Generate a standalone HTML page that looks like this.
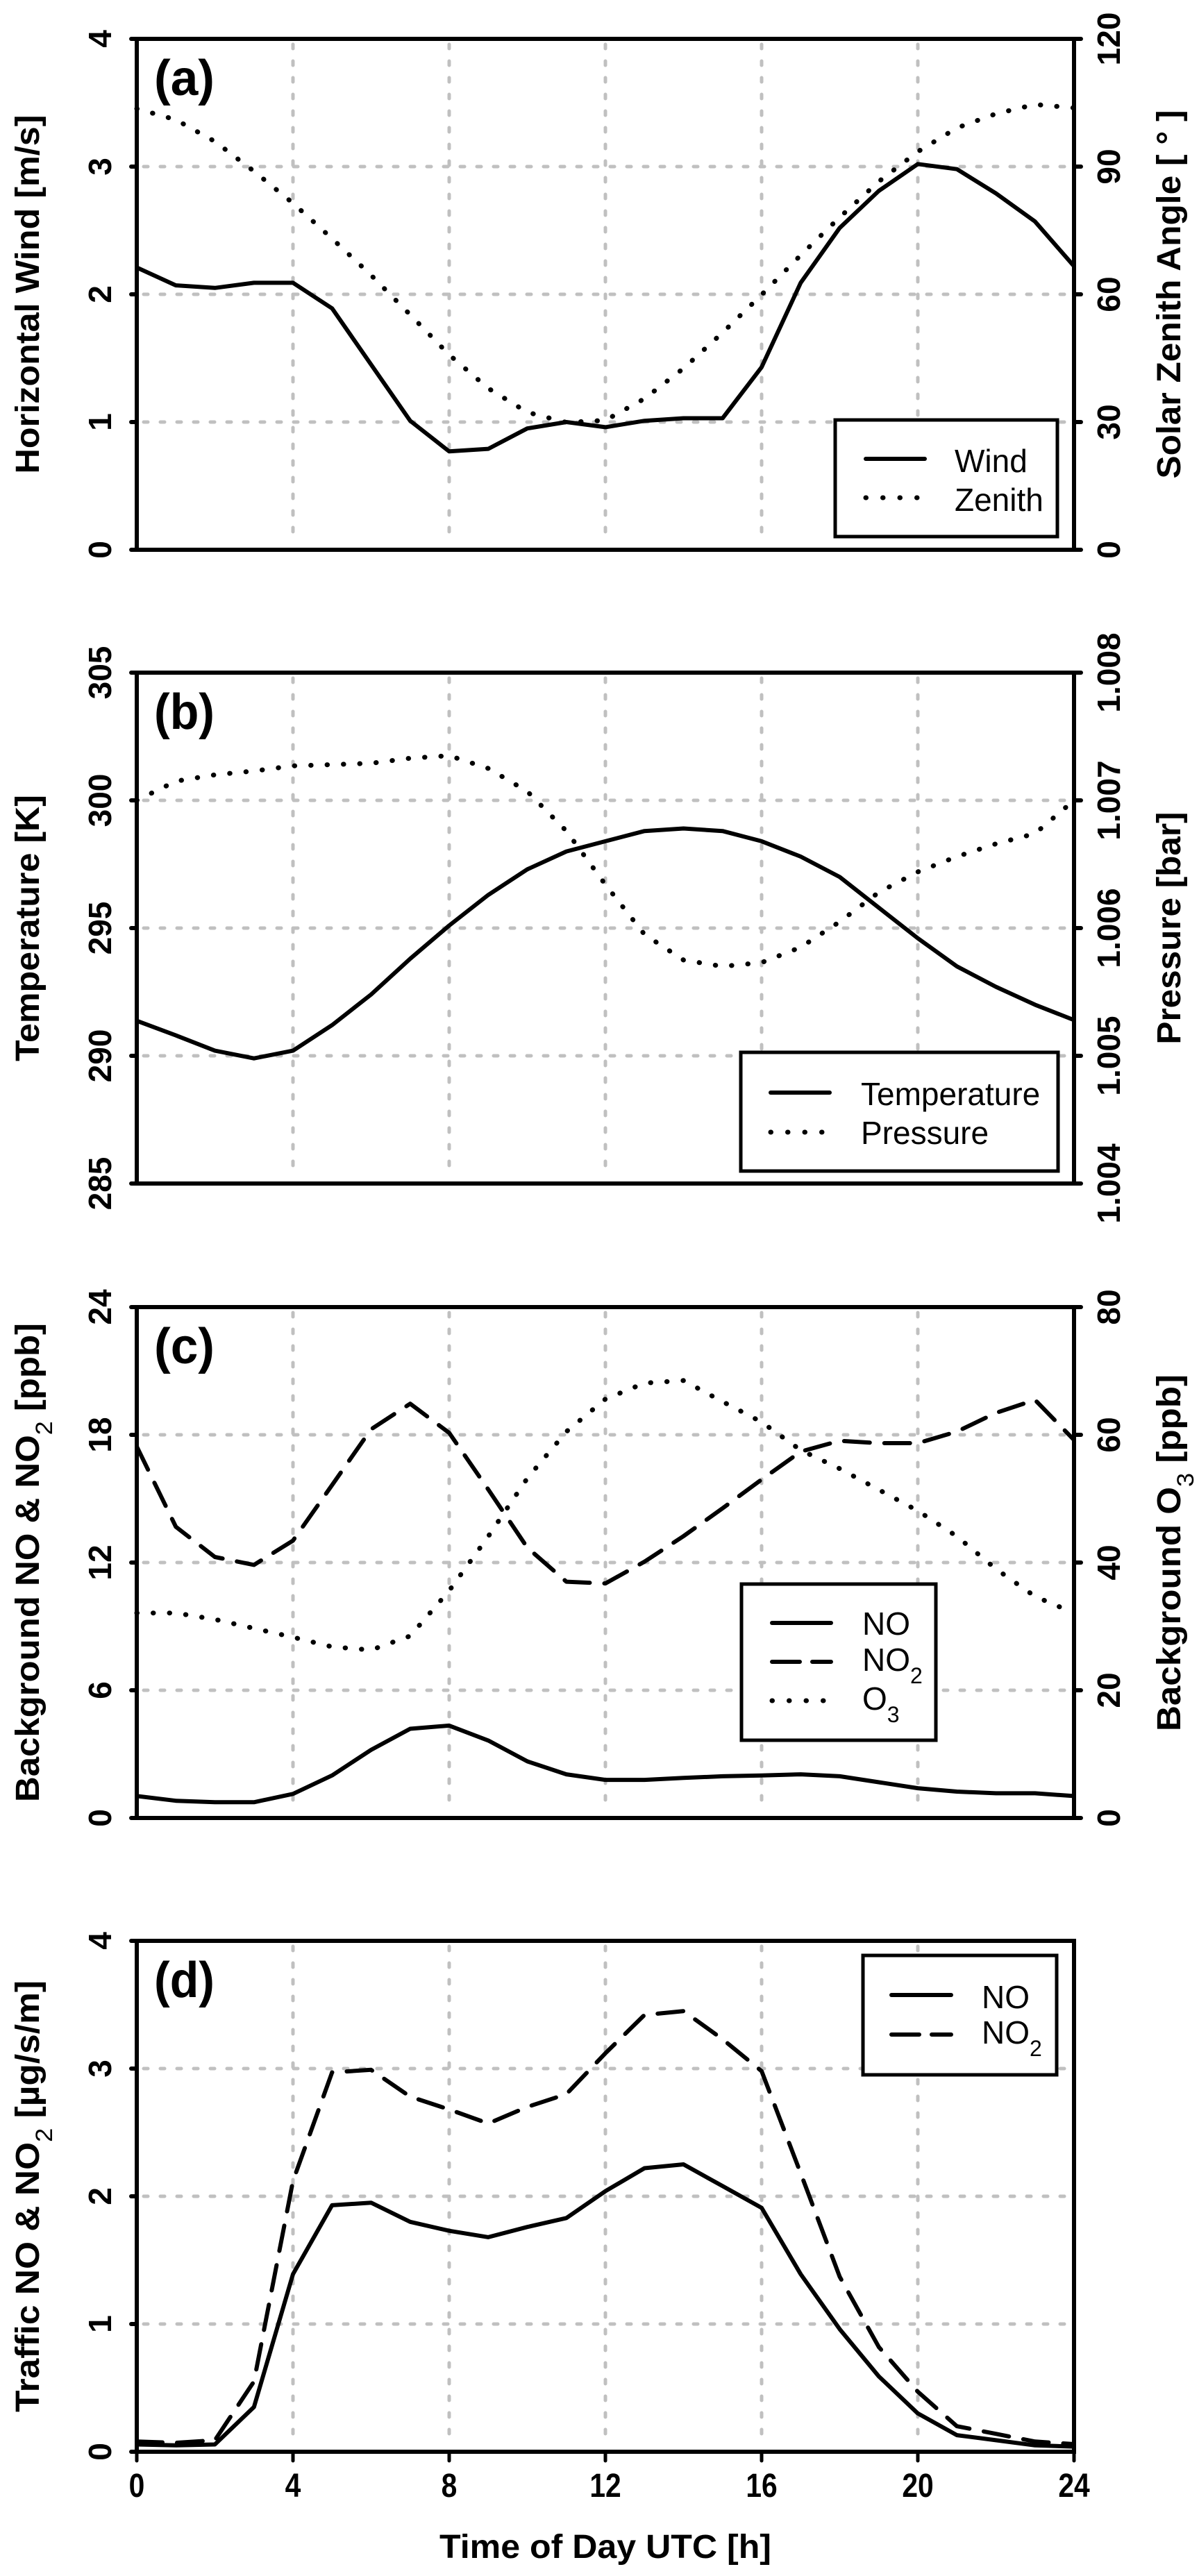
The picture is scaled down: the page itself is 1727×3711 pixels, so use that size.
<!DOCTYPE html>
<html><head><meta charset="utf-8"><style>
html,body{margin:0;padding:0;background:#fff;}
svg{display:block;}
text{font-family:"Liberation Sans",Arial,sans-serif;}
</style></head><body>
<svg id="fig" width="1727" height="3711" viewBox="0 0 1727 3711" xmlns="http://www.w3.org/2000/svg"></svg>
<script>
// ---- data ----
const hours = [0,1,2,3,4,5,6,7,8,9,10,11,12,13,14,15,16,17,18,19,20,21,22,23,24];
const windValues = [2.21,2.07,2.05,2.09,2.09,1.89,1.45,1.01,0.77,0.79,0.95,1.0,0.96,1.01,1.03,1.03,1.43,2.09,2.52,2.81,3.02,2.98,2.79,2.57,2.22];
const zenithValues = [103.6,101,95.9,88.9,81.4,73.1,64.5,55.2,45.8,37.9,32.3,29.9,30.4,35.5,42.6,51,59.9,69.2,78.1,86.5,93.5,99.1,102.4,104.6,103.8];
const temperatureValues = [291.37,290.8,290.2,289.9,290.2,291.2,292.4,293.8,295.1,296.3,297.3,298.0,298.4,298.8,298.9,298.8,298.4,297.8,297.0,295.8,294.6,293.5,292.7,292.0,291.4];
const pressureValues = [1.00700,1.00715,1.00720,1.00723,1.00727,1.00728,1.00729,1.00733,1.00735,1.00725,1.00707,1.00676,1.00634,1.00595,1.00575,1.00570,1.00573,1.00585,1.00605,1.00628,1.00644,1.00656,1.00666,1.00674,1.00700];
const bgNOValues = [1.03,0.81,0.74,0.74,1.13,2.0,3.2,4.19,4.34,3.64,2.66,2.05,1.79,1.79,1.88,1.96,2.0,2.05,1.96,1.68,1.40,1.24,1.16,1.16,1.03];
const bgNO2Values = [17.45,13.68,12.26,11.89,13.03,15.64,18.26,19.46,18.09,15.43,12.70,11.1,11.02,12.04,13.24,14.55,15.9,17.21,17.72,17.61,17.61,18.15,19.03,19.64,17.76];
const bgO3Values = [32.1,32.1,31.1,29.7,28.3,26.8,26.3,28.5,35.6,44.1,53.2,60.5,65.6,68.1,68.5,65.2,62.0,57.6,54.7,51.4,48.1,44.1,39.0,34.7,32.1];
const trNOValues = [0.057,0.05,0.057,0.35,1.39,1.93,1.95,1.80,1.73,1.68,1.76,1.83,2.04,2.22,2.25,2.08,1.91,1.39,0.96,0.59,0.30,0.13,0.09,0.05,0.04];
const trNO2Values = [0.08,0.07,0.09,0.55,2.12,2.97,2.99,2.78,2.68,2.57,2.70,2.80,3.12,3.42,3.45,3.23,2.98,2.18,1.37,0.82,0.47,0.20,0.14,0.08,0.06];
const xTickLabels = ["0","4","8","12","16","20","24"];
const aLeftTicks = ["0","1","2","3","4"];
const aRightTicks = ["0","30","60","90","120"];
const bLeftTicks = ["285","290","295","300","305"];
const bRightTicks = ["1.004","1.005","1.006","1.007","1.008"];
const cLeftTicks = ["0","6","12","18","24"];
const cRightTicks = ["0","20","40","60","80"];
const dLeftTicks = ["0","1","2","3","4"];

const NS = "http://www.w3.org/2000/svg";
const svg = document.getElementById('fig');
const X0 = 197, X1 = 1547, PH = 736;
function xs(h){ return X0 + (h/24)*(X1-X0); }
function mk(tag, attrs, parent){
  const e = document.createElementNS(NS, tag);
  for (const k in attrs) e.setAttribute(k, attrs[k]);
  (parent||svg).appendChild(e);
  return e;
}
const SOLID = null, DOTS = "0.5 23", DASH = "37 21";

function panel(cfg){
  const g = mk('g', {});
  
  
  const top = cfg.top, bot = top + PH;
  const yL = v => bot - (v - cfg.lmin)/(cfg.lmax - cfg.lmin)*PH;
  const yR = v => bot - (v - cfg.rmin)/(cfg.rmax - cfg.rmin)*PH;
  // grid
  for (let h = 4; h < 24; h += 4){
    const l = mk('line', {x1:xs(h), x2:xs(h), y1:top+8, y2:bot-8, stroke:'#c0c0c0','stroke-width':5,'stroke-dasharray':'6 18','stroke-linecap':'round'}, g);
    
    
  }
  for (let i = 1; i < cfg.lticks.length-1; i++){
    const v = cfg.lmin + i*(cfg.lmax-cfg.lmin)/(cfg.lticks.length-1);
    const l = mk('line', {x1:X0+10, x2:X1-10, y1:yL(v), y2:yL(v), stroke:'#c0c0c0','stroke-width':5,'stroke-dasharray':'6 18','stroke-linecap':'round'}, g);
    
    
  }
  // series
  cfg.series.forEach(s => {
    const ys = s.axis === 'r' ? yR : yL;
    const pts = hours.map((h,i) => xs(h).toFixed(1)+','+ys(s.vals[i]).toFixed(1)).join(' ');
    const p = mk('polyline', {points:pts, fill:'none', stroke:'#000','stroke-width':s.dash===DOTS?7:6,'stroke-linejoin':'round','stroke-linecap':'round'}, g);
    if (s.dash) p.setAttribute('stroke-dasharray', s.dash);
    
    
  });
  // frame
  const fr = mk('path', {d:`M${X0},${top} H${X1} V${bot} H${X0} Z`, fill:'none', stroke:'#000','stroke-width':6,'stroke-linejoin':'miter'}, g);
  
  
  // y ticks
  cfg.lticks.forEach((t,i) => {
    const y = bot - i*PH/(cfg.lticks.length-1);
    mk('line', {x1:X0-8, x2:X0, y1:y, y2:y, stroke:'#000','stroke-width':6,'stroke-linecap':'round'}, g);
    const tx = mk('text', {x:0, y:0, transform:`translate(160,${y}) rotate(-90)`, 'text-anchor':'middle','font-size':46,'font-weight':'bold'}, g);
    tx.textContent = t;
    
    
  });
  if (cfg.rticks) cfg.rticks.forEach((t,i) => {
    const y = bot - i*PH/(cfg.rticks.length-1);
    mk('line', {x1:X1, x2:X1+10, y1:y, y2:y, stroke:'#000','stroke-width':6,'stroke-linecap':'round'}, g);
    const tx = mk('text', {x:0, y:0, transform:`translate(1613,${y}) rotate(-90)`, 'text-anchor':'middle','font-size':46,'font-weight':'bold'}, g);
    tx.textContent = t;
    
    
  });
  // axis titles
  const lt = mk('text', {x:0, y:0, transform:`translate(56,${top+PH/2}) rotate(-90)`, 'text-anchor':'middle','font-size':48,'font-weight':'bold', textLength:cfg.ltLen, lengthAdjust:'spacingAndGlyphs'}, g);
  lt.innerHTML = cfg.ltitle;
  
  
  if (cfg.rtitle){
    const rt = mk('text', {x:0, y:0, transform:`translate(1700,${top+PH/2+cfg.rOff}) rotate(-90)`, 'text-anchor':'middle','font-size':48,'font-weight':'bold', textLength:cfg.rtLen, lengthAdjust:'spacingAndGlyphs'}, g);
    rt.innerHTML = cfg.rtitle;
    
    
  }
  // panel label
  const pl = mk('text', {x:222, y:top+81, 'font-size':72,'font-weight':'bold', textLength:87, lengthAdjust:'spacingAndGlyphs'}, g);
  pl.textContent = cfg.label;
  
  
  // legend
  const L = cfg.legend;
  const lg = mk('g', {}, g);
  
  
  mk('rect', {x:L.x, y:L.y, width:L.w, height:L.h, fill:'#fff', stroke:'#000','stroke-width':5}, lg);
  L.rows.forEach(r => {
    const ln = mk('line', {x1:L.lx1, x2:L.lx2, y1:r.y, y2:r.y, stroke:'#000','stroke-width':r.dash===DOTS?7:6,'stroke-linecap':'round'}, lg);
    if (r.dash) ln.setAttribute('stroke-dasharray', r.dash===DOTS ? '0.5 24' : '40 18');
    const t = mk('text', {x:L.tx, y:r.ty, 'font-size':46}, lg);
    t.innerHTML = r.text;
    
    
  });
}

const sub = s => `<tspan baseline-shift="sub" font-size="32">${s}</tspan>`;
const subT = s => `<tspan baseline-shift="sub" font-size="34" font-weight="normal">${s}</tspan>`;

panel({name:'panel-a-wind-zenith', top:56, label:'(a)', lmin:0,lmax:4, rmin:0,rmax:120, lticks:aLeftTicks, rticks:aRightTicks,
  ltitle:'Horizontal Wind [m/s]', ltLen:517, rtitle:'Solar Zenith Angle [ ° ]', rtLen:531, rOff:0,
  series:[{id:'wind',vals:windValues,axis:'l',dash:SOLID},{id:'zenith',vals:zenithValues,axis:'r',dash:DOTS}],
  legend:{x:1203,y:605,w:320,h:168,lx1:1247,lx2:1332,tx:1375,rows:[{y:661,ty:680,text:'Wind'},{y:717,ty:736,text:'Zenith',dash:DOTS}]}});
panel({name:'panel-b-temperature-pressure', top:969, label:'(b)', lmin:285,lmax:305, rmin:1.004,rmax:1.008, lticks:bLeftTicks, rticks:bRightTicks,
  ltitle:'Temperature [K]', ltLen:384, rtitle:'Pressure [bar]', rtLen:335, rOff:0,
  series:[{id:'temperature',vals:temperatureValues,axis:'l',dash:SOLID},{id:'pressure',vals:pressureValues,axis:'r',dash:DOTS}],
  legend:{x:1067,y:1516,w:457,h:171,lx1:1110,lx2:1195,tx:1240,rows:[{y:1574,ty:1592,text:'Temperature'},{y:1631,ty:1648,text:'Pressure',dash:DOTS}]}});
panel({name:'panel-c-background', top:1883, label:'(c)', lmin:0,lmax:24, rmin:0,rmax:80, lticks:cLeftTicks, rticks:cRightTicks,
  ltitle:'Background NO &amp; NO'+subT('2')+'  [ppb]', ltLen:690, rtitle:'Background O'+subT('3')+'  [ppb]', rtLen:514, rOff:-14,
  series:[{id:'background-no',vals:bgNOValues,axis:'l',dash:SOLID},{id:'background-no2',vals:bgNO2Values,axis:'l',dash:DASH},{id:'background-o3',vals:bgO3Values,axis:'r',dash:DOTS}],
  legend:{x:1068,y:2282,w:280,h:225,lx1:1112,lx2:1197,tx:1242,rows:[{y:2338,ty:2355,text:'NO'},{y:2394,ty:2407,text:'NO'+sub('2'),dash:DASH},{y:2450,ty:2463,text:'O'+sub('3'),dash:DOTS}]}});
panel({name:'panel-d-traffic', top:2796, label:'(d)', lmin:0,lmax:4, lticks:dLeftTicks, rticks:null,
  ltitle:'Traffic NO &amp; NO'+subT('2')+'  [µg/s/m]', ltLen:622,
  series:[{id:'traffic-no',vals:trNOValues,axis:'l',dash:SOLID},{id:'traffic-no2',vals:trNO2Values,axis:'l',dash:DASH}],
  legend:{x:1243,y:2817,w:279,h:172,lx1:1284,lx2:1370,tx:1414,rows:[{y:2874,ty:2893,text:'NO'},{y:2931,ty:2944,text:'NO'+sub('2'),dash:DASH}]}});

// x axis ticks & labels (bottom panel only)
xTickLabels.forEach((t,i) => {
  const h = i*4;
  mk('line', {x1:xs(h), x2:xs(h), y1:3532, y2:3545, stroke:'#000','stroke-width':5,'stroke-linecap':'round'});
  const tx = mk('text', {x:0, y:0, transform:`translate(${xs(h)},3597) scale(0.85,1)`, 'text-anchor':'middle','font-size':48,'font-weight':'bold'});
  tx.textContent = t;
  
  
});
const xt = mk('text', {x:(X0+X1)/2, y:3685, 'text-anchor':'middle','font-size':48,'font-weight':'bold', textLength:478, lengthAdjust:'spacingAndGlyphs'});
xt.textContent = 'Time of Day UTC [h]';


</script>
</body></html>
